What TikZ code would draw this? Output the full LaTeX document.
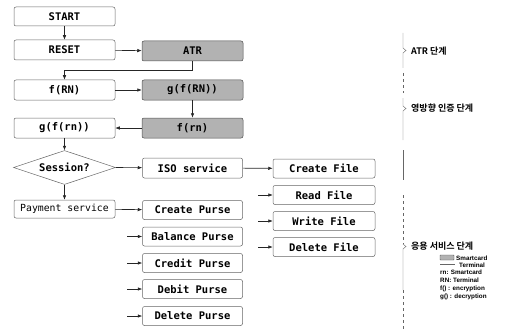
\documentclass[tikz,border=0pt]{standalone}
\usepackage{fontspec}
\setmainfont{DejaVu Sans Mono}
\newfontfamily\kofont{Noto Sans CJK KR Bold}
\newfontfamily\hfont{Liberation Sans}
\usetikzlibrary{arrows.meta,shapes.geometric}
\tikzset{
  tbox/.style={draw=black!60, line width=0.5pt, rounded corners=2pt, minimum width=101pt, minimum height=19pt, inner sep=0pt, font=\fontsize{10.5}{12}\selectfont\bfseries},
  sbox/.style={tbox, fill=gray!60, draw=black!70},
  dbox/.style={draw=black!60, line width=0.5pt, diamond, aspect=3, minimum width=102pt, minimum height=34pt, inner sep=0pt, font=\fontsize{10.5}{12}\selectfont\bfseries},
  arr/.style={-{Latex[length=4.5pt,width=3.5pt]}, line width=0.6pt, black!85},
  brk/.style={line width=0.4pt, black!60},
  lbl/.style={anchor=west, inner sep=0pt, font=\kofont\fontsize{9}{10}\selectfont},
  lg/.style={anchor=west, inner sep=0pt, font=\hfont\fontsize{6.3}{7}\selectfont\bfseries}
}
\begin{document}
\begin{tikzpicture}[x=1pt,y=-1pt]
\useasboundingbox (0,0) rectangle (506,329);
% left column
\node[tbox, minimum height=19pt] (start) at (64.5,16.5) {START};
\node[tbox, minimum height=20pt] (reset) at (64.5,50) {RESET};
\node[tbox, minimum height=20pt] (frn) at (64.5,90) {f(RN)};
\node[tbox, minimum height=20pt] (gfrn) at (64.5,128) {g(f(rn))};
\node[dbox] (sess) at (64.5,167.5) {Session?};
\node[tbox, minimum height=18pt, font=\fontsize{9.8}{12}\selectfont] (pay) at (64.5,209) {Payment service};
% shaded column
\node[sbox, minimum height=20pt] (atr) at (192.5,51) {ATR};
\node[sbox, minimum height=20pt] (sgf) at (192.5,90) {g(f(RN))};
\node[sbox, minimum height=20pt] (sfr) at (192.5,128) {f(rn)};
% services
\node[tbox, minimum width=100pt, minimum height=20pt] (iso) at (192.5,168) {ISO service};
\node[tbox, minimum width=100pt] (cp) at (192.5,210) {Create Purse};
\node[tbox, minimum width=100pt] (bp) at (192.5,236.5) {Balance Purse};
\node[tbox, minimum width=100pt] (crp) at (192.5,263) {Credit Purse};
\node[tbox, minimum width=100pt] (dbp) at (192.5,289) {Debit Purse};
\node[tbox, minimum width=100pt] (dlp) at (192.5,316) {Delete Purse};
% files
\node[tbox, minimum width=102pt] (cf) at (324,168.5) {Create File};
\node[tbox, minimum width=102pt] (rf) at (324,195) {Read File};
\node[tbox, minimum width=102pt] (wf) at (324,221) {Write File};
\node[tbox, minimum width=102pt] (df) at (324,247) {Delete File};
% connectors
\draw[arr] (start) -- (reset);
\draw[arr] (reset) -- (atr);
\coordinate (k1) at (192.5,70);
\coordinate (k2) at (64.5,70);
\draw[arr] (atr.south) -- (k1) -- (k2) -- (frn.north);
\draw[arr] (frn) -- (sgf);
\draw[arr] (sgf) -- (sfr);
\draw[arr] (sfr) -- (gfrn);
\draw[arr] (gfrn) -- (sess);
\draw[arr] (sess.east) -- (iso);
\draw[arr] (sess.south) -- (pay);
\draw[arr] (pay) -- (cp);
\coordinate (pb) at (127,236.5);
\coordinate (pc) at (127,263);
\coordinate (pd) at (127,289);
\coordinate (pe) at (127,316);
\draw[arr] (pb) -- (bp);
\draw[arr] (pc) -- (crp);
\draw[arr] (pd) -- (dbp);
\draw[arr] (pe) -- (dlp);
\draw[arr] (iso) -- (cf);
\coordinate (fr) at (258,195);
\coordinate (fw) at (258,221);
\coordinate (fd) at (258,247);
\draw[arr] (fr) -- (rf);
\draw[arr] (fw) -- (wf);
\draw[arr] (fd) -- (df);
% brackets
\draw[brk] (403,33) -- (403,48) -- (406,50.5) -- (403,53) -- (403,68);
\draw[brk, dashed] (403,73) -- (403,93);
\draw[brk] (403,98) -- (403,106) -- (406,108.5) -- (403,111) -- (403,140);
\draw[brk] (403,150) -- (403,180);
\draw[brk, dashed] (403,195) -- (403,244);
\draw[brk] (403,244) -- (406,246.5) -- (403,249) -- (403,290);
\draw[brk, dashed] (403,290) -- (403,329);
\node[lbl] (l1) at (411,51) {ATR 단계};
\node[lbl] (l2) at (411,108.5) {영방향 인증 단계};
\node[lbl] (l3) at (411,246.5) {응용 서비스 단계};
% legend
\node[draw=black!70, fill=gray!60, minimum width=14pt, minimum height=5pt, inner sep=0pt, rounded corners=0.5pt] (ls) at (447,257.5) {};
\node[lg] (lt1) at (456,258) {Smartcard};
\draw[brk] (440,264) -- (455,264);
\node[lg] (lt2) at (459,265) {Terminal};
\node[lg] (lt3) at (440,272.5) {rn: Smartcard};
\node[lg] (lt4) at (440,280.5) {RN: Terminal};
\node[lg] (lt5) at (440,288.5) {f() : encryption};
\node[lg] (lt6) at (440,296.5) {g() : decryption};
\end{tikzpicture}
\end{document}
